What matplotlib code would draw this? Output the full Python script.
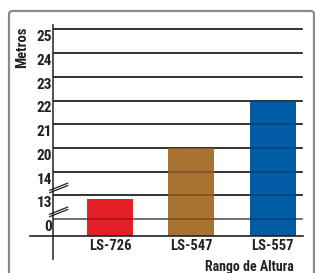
import matplotlib
matplotlib.use("Agg")
import matplotlib.pyplot as plt
from matplotlib.patches import FancyBboxPatch
from matplotlib import font_manager
import numpy as np

# data
categories = ["LS-726", "LS-547", "LS-557"]
heights = [11, 20, 22]          # metros
colors = ["#E31F26", "#A87330", "#035CA6"]
tick_values = [0, 13, 14, 20, 21, 22, 23, 24, 25]

# pick a narrow bold face if one is around
installed = {f.name for f in font_manager.fontManager.ttflist}
FONT = [f for f in ["Liberation Sans Narrow", "Roboto Condensed",
                    "Liberation Sans", "DejaVu Sans"] if f in installed]

# broken axis: each tick gets one evenly spaced slot
positions = np.arange(len(tick_values))
bar_tops = np.interp(heights, tick_values, positions)
base = -0.72

fig = plt.figure(figsize=(3.15, 2.73), dpi=100)

# outer rounded frame
frame = FancyBboxPatch((9 / 315, -0.2), 305 / 315, 1.2 - 11 / 273,
                       boxstyle="round,pad=0,rounding_size=0.012",
                       transform=fig.transFigure, fill=False,
                       edgecolor="#8a8a8a", linewidth=1.6)
fig.patches.append(frame)

ax = fig.add_axes([53 / 315, 14 / 273, 250 / 315, 234 / 273])
ax.set_xlim(-0.70, 2.37)
ax.set_ylim(-1.69, 8.19)
for s in ["top", "right", "bottom"]:
    ax.spines[s].set_visible(False)
ax.spines["left"].set_color("#333333")
ax.spines["left"].set_linewidth(1.2)
ax.set_xticks([])
ax.set_yticks([])

x = np.arange(len(categories))
ax.bar(x, bar_tops - base, bottom=base, width=0.565, color=colors, zorder=2)

# gridlines, faintly visible over the bars
for i, p in enumerate(positions):
    c = "#777777" if i == 0 else "#111111"
    ax.axhline(p, xmin=0, xmax=0.996, color=c, linewidth=1.1, zorder=1)
    ax.axhline(p, xmin=0, xmax=0.996, color="black", linewidth=1.1,
               alpha=0.3, zorder=3)

# x axis line
ax.plot([-0.092, 1.0], [base, base], transform=ax.get_yaxis_transform(),
        color="#222222", linewidth=1.2, clip_on=False, zorder=4)

# y tick labels, sitting just under each line
for p, v in zip(positions, tick_values):
    ax.text(-0.004, p - 0.04, str(v), transform=ax.get_yaxis_transform(),
            ha="right", va="top", fontsize=11, fontweight="bold",
            family=FONT, color="#222222")

# category labels
for xi, name in zip(x, categories):
    ax.text(xi, -0.84, name, ha="center", va="top", fontsize=10.5,
            fontweight="bold", family=FONT, color="#222222")

# axis break marks
for yc in [1.31, 0.30]:
    for dy in [-0.05, 0.05]:
        ax.plot([-0.74, -0.52], [yc - 0.15 + dy, yc + 0.15 + dy],
                color="#222222", linewidth=0.9, clip_on=False, zorder=5)

fig.text(22 / 315, 1 - 47 / 273, "Metros", rotation=90, ha="center",
         va="center", fontsize=10.5, fontweight="bold", family=FONT,
         color="#222222")
fig.text(294 / 315, 1 - 267 / 273, "Rango de Altura", ha="right",
         va="center", fontsize=10, fontweight="bold", family=FONT,
         color="#222222")

fig.savefig("out.png", dpi=100)
